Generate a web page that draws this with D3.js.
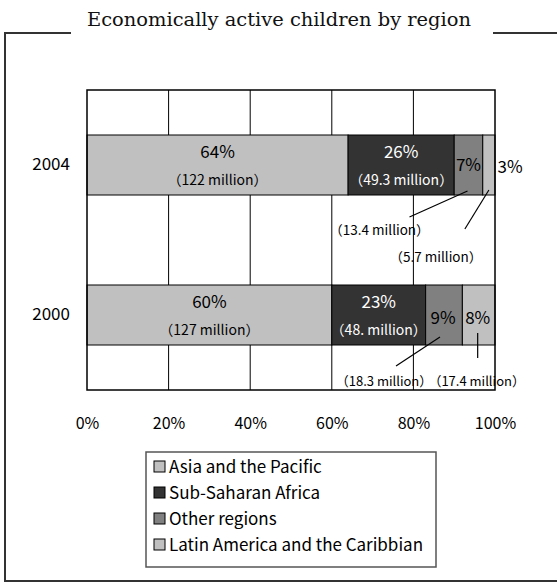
<!DOCTYPE html>
<html><head><meta charset="utf-8">
<script src="https://cdn.jsdelivr.net/npm/d3@7"></script>
<style>body{margin:0;background:#fff}svg{display:block}</style>
</head><body>
<script>
const title = "Economically active children by region";
const years = ["2004", "2000"];
const regions = ["Asia and the Pacific", "Sub-Saharan Africa", "Other regions", "Latin America and the Caribbian"];
const pct2004 = [64, 26, 7, 3];
const pct2000 = [60, 23, 9, 8];
const mil2004 = ["122", "49.3", "13.4", "5.7"];
const mil2000 = ["127", "48.", "18.3", "17.4"];
const xTicks = [0, 20, 40, 60, 80, 100];
const colors = ["#c0c0c0", "#333333", "#808080", "#c0c0c0"];

const W = 557, H = 583;
const sans = "'Noto Sans CJK JP', 'Liberation Sans', sans-serif";
const svg = d3.select("body").append("svg").attr("width", W).attr("height", H);

// frame
const fr = svg.append("g").attr("stroke", "#333").attr("stroke-width", 2).attr("fill", "none");
fr.append("path").attr("d", `M71,33 H5 V581 H557`);
fr.append("path").attr("d", `M493,33 H557`);
svg.append("text").attr("x", 279).attr("y", 26).attr("text-anchor", "middle")
  .attr("font-family", "'DejaVu Serif', serif").attr("font-size", 18)
  .attr("textLength", 384).attr("lengthAdjust", "spacingAndGlyphs")
  .attr("fill", "#111").text(title);

const m = {l: 87, r: 495, t: 90, b: 390};
const x = d3.scaleLinear().domain([0, 100]).range([m.l, m.r]);
const y = d3.scaleBand().domain(years).range([m.t, m.b]).paddingInner(0.6).paddingOuter(0.3);

// grid
svg.append("g").selectAll("line").data(xTicks.slice(1, -1)).join("line")
  .attr("x1", d => x(d)).attr("x2", d => x(d)).attr("y1", m.t).attr("y2", m.b)
  .attr("stroke", "#000").attr("stroke-width", 1);

const rows = years.map((yr, i) => {
  const p = i === 0 ? pct2004 : pct2000;
  const mm = i === 0 ? mil2004 : mil2000;
  let c = 0;
  return p.map((v, j) => { const s = {yr, j, v, mil: mm[j], x0: c, x1: Math.min(100, c + v)}; c += v; return s; });
});
rows.forEach(r => { r[r.length - 1].x1 = 100; });
const segs = rows.flat();

svg.append("g").selectAll("rect").data(segs).join("rect")
  .attr("x", d => x(d.x0)).attr("width", d => x(d.x1) - x(d.x0))
  .attr("y", d => y(d.yr)).attr("height", y.bandwidth())
  .attr("fill", d => colors[d.j]).attr("stroke", "#000").attr("stroke-width", 1);

// plot border
svg.append("rect").attr("x", m.l).attr("y", m.t).attr("width", m.r - m.l).attr("height", m.b - m.t)
  .attr("fill", "none").attr("stroke", "#000").attr("stroke-width", 1.5);

// x axis labels
const xa = d3.axisBottom(x).tickValues(xTicks).tickFormat(d => d + "%").tickSize(0).tickPadding(0);
const gx = svg.append("g").attr("transform", `translate(0,${m.b + 33})`).call(xa);
gx.select(".domain").remove();
gx.selectAll("text").attr("font-family", sans).attr("font-size", 16).attr("fill", "#000").attr("dy", "0.35em").attr("y", 0);

// y axis labels
const ya = d3.axisLeft(y).tickSize(0).tickPadding(0);
const gy = svg.append("g").attr("transform", `translate(70,0)`).call(ya);
gy.select(".domain").remove();
gy.selectAll("text").attr("font-family", sans).attr("font-size", 17).attr("fill", "#000");

const lab = svg.append("g").attr("font-family", sans).attr("text-anchor", "middle");
const mid = d => (x(d.x0) + x(d.x1)) / 2;
segs.forEach(d => {
  const top = y(d.yr), cx = mid(d);
  const fill = d.j === 1 ? "#fff" : "#000";
  if (d.v >= 20) {
    lab.append("text").attr("x", cx).attr("y", top + 23).attr("font-size", 17).attr("fill", fill).text(d.v + "%");
    lab.append("text").attr("x", cx).attr("y", top + 50).attr("font-size", 14).attr("fill", fill).text("（" + d.mil + " million）");
  }
});
// small segment labels and leaders
const small = segs.filter(d => d.v < 20);
const line = (x1, y1, x2, y2) => svg.append("line").attr("x1", x1).attr("y1", y1).attr("x2", x2).attr("y2", y2).attr("stroke", "#000").attr("stroke-width", 1.2);
small.forEach(d => {
  const top = y(d.yr), bh = y.bandwidth(), bot = top + bh, cx = mid(d);
  const t = lab.append("text").attr("font-size", 17).attr("fill", "#000").text(d.v + "%");
  const mt = lab.append("text").attr("font-size", 13.5).attr("fill", "#000").text("（" + d.mil + " million）");
  if (d.yr === "2004" && d.j === 2) {
    t.attr("x", cx).attr("y", top + 36);
    line(cx - 1, bot - 4, cx - 59, bot + 22);
    mt.attr("x", cx - 89).attr("y", bot + 40);
  } else if (d.yr === "2004" && d.j === 3) {
    t.attr("x", x(100) + 15).attr("y", top + 38);
    line(cx, bot - 5, cx - 24, bot + 34);
    mt.attr("x", cx - 53).attr("y", bot + 67);
  } else if (d.yr === "2000" && d.j === 2) {
    t.attr("x", cx - 1).attr("y", top + 39);
    line(cx - 4, bot - 8, cx - 48, bot + 21);
    mt.attr("x", cx - 60).attr("y", bot + 41).attr("font-size", 13);
  } else {
    t.attr("x", cx - 1).attr("y", top + 39);
    line(cx - 1, bot - 12, cx - 1, bot + 13);
    mt.attr("x", cx - 2).attr("y", bot + 41).attr("font-size", 13);
  }
});

// legend
const lg = svg.append("g").attr("transform", "translate(146,452)");
lg.append("rect").attr("width", 290).attr("height", 115).attr("fill", "#fff").attr("stroke", "#555").attr("stroke-width", 1.5);
const li = lg.selectAll("g").data(regions).join("g").attr("transform", (d, i) => `translate(8,${15 + i * 26})`);
li.append("rect").attr("x", 0).attr("y", -6).attr("width", 11).attr("height", 11)
  .attr("fill", (d, i) => colors[i]).attr("stroke", "#000").attr("stroke-width", 1);
li.append("text").attr("x", 15).attr("y", 0).attr("dy", "0.35em").attr("font-family", sans).attr("font-size", 17)
  .attr("fill", "#000").text(d => d);
</script>
</body></html>
